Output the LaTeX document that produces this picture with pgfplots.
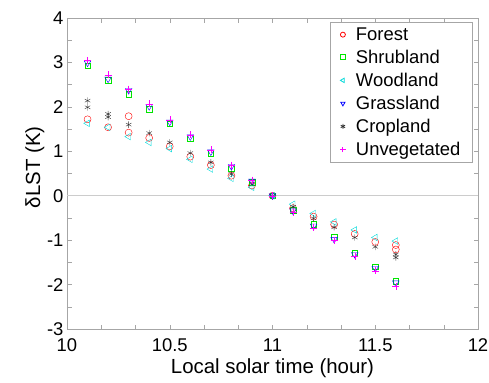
\documentclass[border=0pt]{standalone}
\usepackage{fontspec}
\setmainfont{Liberation Sans}
\usepackage{pgfplots}
\pgfplotsset{compat=1.18}
\definecolor{mgreen}{rgb}{0,0.9,0}
\definecolor{mcyan}{rgb}{0,0.85,0.85}
\definecolor{mmag}{rgb}{1,0,1}
\begin{document}
\begin{tikzpicture}
\begin{axis}[
  at={(0,0)}, anchor=south west,
  scale only axis, width=411bp, height=311bp,
  xmin=10, xmax=12, ymin=-3, ymax=4,
  xtick={10,10.5,11,11.5,12}, minor x tick num=2,
  ytick={-3,-2,-1,0,1,2,3,4}, minor y tick num=1,
  tick align=inside, major tick length=4.5bp, minor tick length=4.5bp,
  axis line style={gray!70}, every tick/.style={gray!70, line width=0.5pt},
  /pgf/number format/assume math mode=true,
  ticklabel style={font=\fontsize{18.5}{20}\selectfont, text=black},
  xticklabel style={yshift=-6bp},
  label style={font=\fontsize{20.5}{22}\selectfont},
  xlabel={Local solar time (hour)},
  ylabel={δLST (K)},
  xlabel style={at={(axis description cs:0.5,-0.125)}, anchor=center},
  ylabel style={at={(axis description cs:-0.078,0.52)}, anchor=center, rotate=0},
  legend style={at={(axis description cs:0.987,0.986)}, anchor=north east,
    draw=gray!70, font=\fontsize{18.5}{20}\selectfont, cells={anchor=west},
    row sep=4.2bp, inner xsep=10bp, inner ysep=3bp},
  legend image post style={mark size=2.5bp, line width=0.8pt},
  clip=false,
]
\addplot[gray!40, line width=0.5pt, forget plot] coordinates {(10,0) (12,0)};
\addplot[only marks, red, mark=o, mark size=3.5bp] coordinates {
(10.1,1.72)(10.2,1.54)(10.3,1.79)(10.3,1.42)(10.4,1.30)(10.5,1.11)(10.6,0.88)(10.7,0.69)(10.8,0.45)(10.9,0.23)(11,0)(11.1,-0.28)(11.2,-0.47)(11.3,-0.65)(11.4,-0.86)(11.5,-1.04)(11.6,-1.11)(11.6,-1.21)};
\addlegendentry{\hspace{8bp}Forest}
\addplot[only marks, color=mgreen, mark=square, mark size=2.8bp] coordinates {
(10.1,2.93)(10.2,2.60)(10.3,2.28)(10.4,1.95)(10.5,1.62)(10.6,1.30)(10.7,0.96)(10.8,0.62)(10.9,0.31)(11,0)(11.1,-0.32)(11.2,-0.64)(11.3,-0.94)(11.4,-1.29)(11.5,-1.60)(11.6,-1.92)};
\addlegendentry{\hspace{8bp}Shrubland}
\addplot[only marks, color=mcyan, mark=triangle, mark size=3.8bp, mark options={rotate=90}] coordinates {
(10.1,1.63)(10.2,1.54)(10.3,1.33)(10.4,1.20)(10.5,1.06)(10.6,0.82)(10.7,0.60)(10.8,0.39)(10.9,0.19)(11,0)(11.1,-0.19)(11.2,-0.40)(11.3,-0.59)(11.4,-0.77)(11.5,-0.94)(11.6,-1.02)};
\addlegendentry{\hspace{8bp}Woodland}
\addplot[only marks, color=blue, mark=triangle, mark size=3.8bp, mark options={rotate=180}] coordinates {
(10.1,2.99)(10.2,2.63)(10.3,2.37)(10.4,2.01)(10.5,1.66)(10.6,1.33)(10.7,0.99)(10.8,0.66)(10.9,0.33)(11,0)(11.1,-0.34)(11.2,-0.68)(11.3,-0.98)(11.4,-1.32)(11.5,-1.63)(11.6,-1.96)};
\addlegendentry{\hspace{8bp}Grassland}
\addplot[only marks, color=black!80, mark=asterisk, mark size=3.2bp] coordinates {
(10.1,2.14)(10.1,1.99)(10.2,1.84)(10.2,1.77)(10.3,1.60)(10.4,1.41)(10.5,1.20)(10.6,0.96)(10.7,0.75)(10.8,0.49)(10.9,0.26)(11,0)(11.1,-0.25)(11.2,-0.51)(11.3,-0.71)(11.4,-0.94)(11.5,-1.15)(11.6,-1.32)(11.6,-1.39)};
\addlegendentry{\hspace{8bp}Cropland}
\addplot[only marks, color=mmag, mark=+, mark size=3.5bp,
  legend image code/.code={\draw[mmag, line width=0.9pt] (0.3cm-2.6bp,0cm) -- (0.3cm+2.6bp,0cm) (0.3cm,-2.6bp) -- (0.3cm,2.6bp);}] coordinates {
(10.1,3.04)(10.2,2.72)(10.3,2.40)(10.4,2.07)(10.5,1.71)(10.6,1.37)(10.7,1.03)(10.8,0.69)(10.9,0.35)(11,0)(11.1,-0.37)(11.2,-0.72)(11.3,-1.01)(11.4,-1.36)(11.5,-1.69)(11.6,-2.04)};
\addlegendentry{\hspace{8bp}Unvegetated}
\end{axis}
\pgfresetboundingbox
\path[use as bounding box] (-67bp,-54bp) rectangle (422bp,329bp);
\end{tikzpicture}
\end{document}
